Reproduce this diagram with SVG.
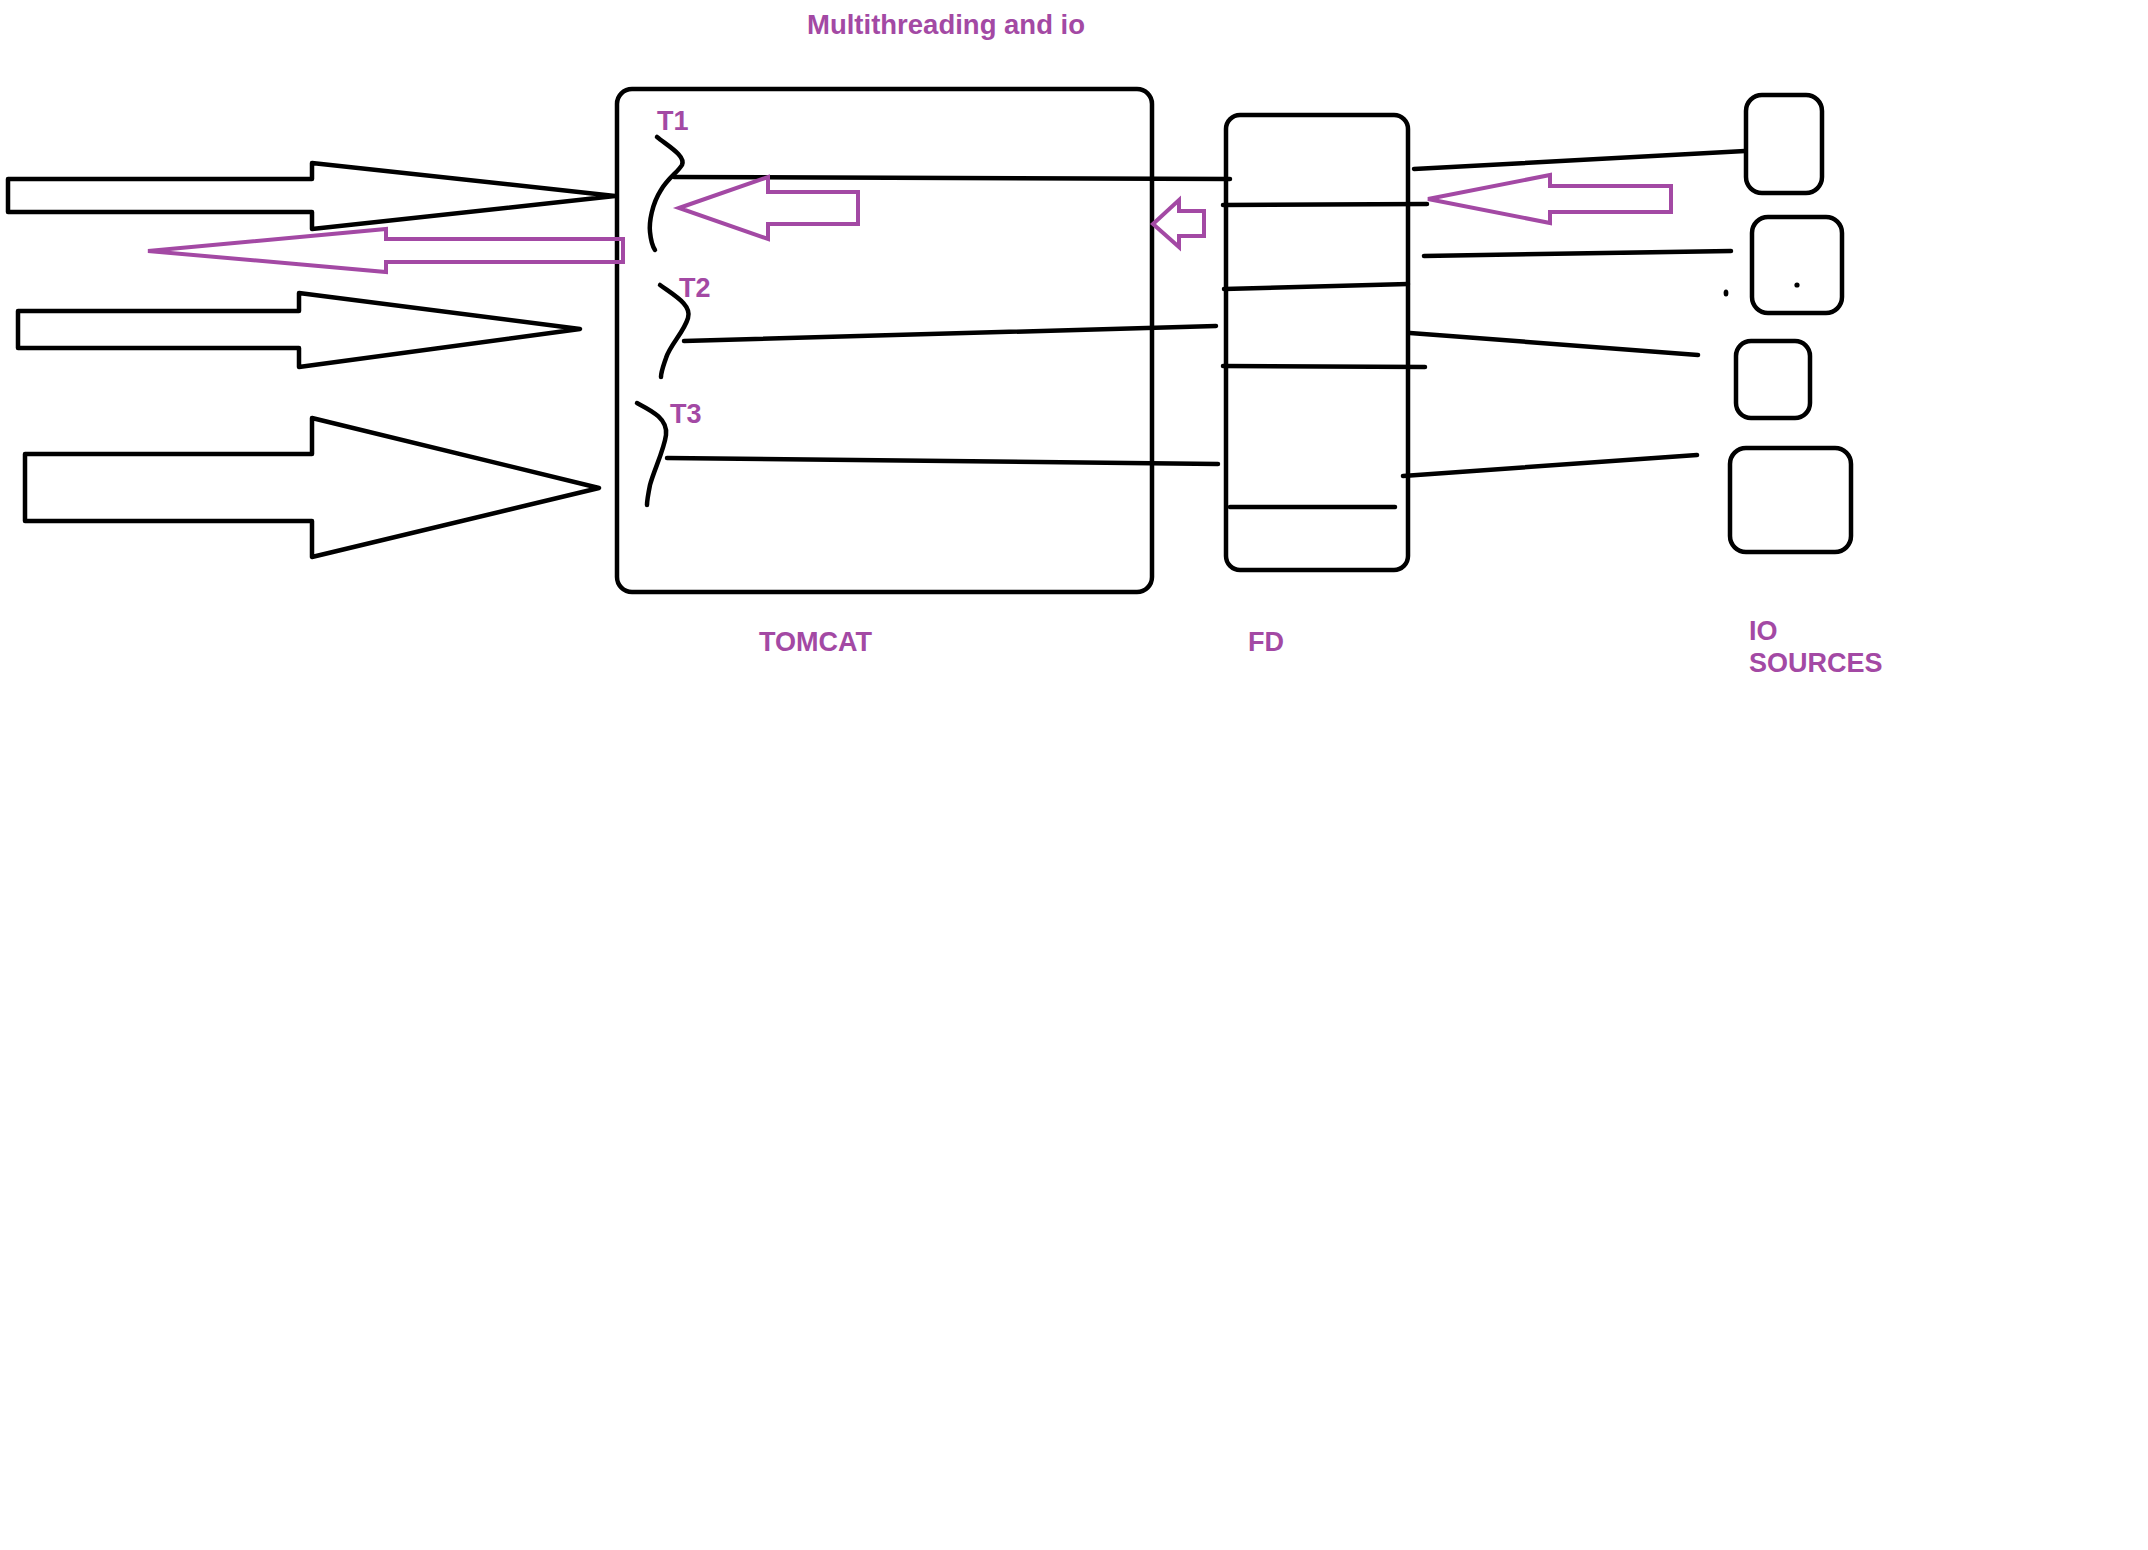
<svg xmlns="http://www.w3.org/2000/svg" width="2148" height="1550" viewBox="0 0 2148 1550">
<style>
.box{fill:none;stroke:#000;stroke-width:4.5;}
.ln{fill:none;stroke:#000;stroke-width:4.5;stroke-linecap:round;stroke-linejoin:round;}
.blk{fill:#fff;stroke:#000;stroke-width:4.5;stroke-linejoin:round;}
.pur{fill:none;stroke:#A349A4;stroke-width:4;stroke-linejoin:miter;}
.lbl{font-family:"Liberation Sans",Arial,sans-serif;font-weight:bold;font-size:27px;fill:#A349A4;}
</style>
<rect width="2148" height="1550" fill="#fff"/>
<text class="lbl" x="807" y="34" style="font-size:27.5px">Multithreading and io</text>

<g id="incoming-arrows">
<polygon class="blk" points="8,179 312,179 312,163 615,196 312,229 312,212 8,212"/>
<polygon class="blk" points="18,311 299,311 299,293 580,329 299,367 299,348 18,348"/>
<polygon class="blk" points="25,454 312,454 312,418 599,488 312,557 312,521 25,521"/>
</g>

<g id="tomcat">
<rect class="box" x="617" y="89" width="535" height="503" rx="15"/>
<text class="lbl" x="759" y="651">TOMCAT</text>
</g>

<g id="threads">
<path class="ln" d="M657,137 C668,146 686,156 682,165 C678,172 668,178 661,190 C652,204 649,222 650,232 C651,242 653,247 655,250"/>
<text class="lbl" x="657" y="130">T1</text>
<path class="ln" d="M660,285 C675,296 692,305 688,318 C684,332 670,345 666,358 C663,367 661,372 661,377"/>
<text class="lbl" x="679" y="297">T2</text>
<path class="ln" d="M637,403 C650,410 668,418 666,435 C664,450 654,470 650,485 C648,495 647,500 647,505"/>
<text class="lbl" x="670" y="423">T3</text>
</g>

<g id="fd">
<rect class="box" x="1226" y="115" width="182" height="455" rx="14"/>
<text class="lbl" x="1248" y="651">FD</text>
</g>

<g id="io1"><rect class="box" x="1746" y="95" width="76" height="98" rx="16"/></g>
<g id="io2"><rect class="box" x="1752" y="217" width="90" height="96" rx="16"/>
<circle cx="1797" cy="285" r="2.6" fill="#000"/></g>
<g id="io3"><rect class="box" x="1736" y="341" width="74" height="77" rx="15"/></g>
<g id="io4"><rect class="box" x="1730" y="448" width="121" height="104" rx="16"/></g>
<g id="io-label">
<text class="lbl" x="1749" y="640">IO</text>
<text class="lbl" x="1749" y="672">SOURCES</text>
</g>
<ellipse cx="1726" cy="293" rx="2.4" ry="3.6" fill="#000"/>

<g id="connectors">
<line class="ln" x1="674" y1="177" x2="1230" y2="179"/>
<line class="ln" x1="684" y1="341" x2="1216" y2="326"/>
<line class="ln" x1="667" y1="458" x2="1218" y2="464"/>
<line class="ln" x1="1223" y1="205" x2="1427" y2="204"/>
<line class="ln" x1="1224" y1="289" x2="1408" y2="284"/>
<line class="ln" x1="1223" y1="366" x2="1425" y2="367"/>
<line class="ln" x1="1230" y1="507" x2="1395" y2="507"/>
<line class="ln" x1="1414" y1="169" x2="1745" y2="151"/>
<line class="ln" x1="1424" y1="256" x2="1731" y2="251"/>
<line class="ln" x1="1410" y1="333" x2="1698" y2="355"/>
<line class="ln" x1="1403" y1="476" x2="1697" y2="455"/>
</g>

<g id="return-arrows">
<polygon class="pur" points="148,251 386,229 386,239 623,239 623,262 386,262 386,272"/>
<polygon class="pur" points="679,208 768,177 768,192 858,192 858,224 768,224 768,239"/>
<polygon class="pur" points="1153,224 1179,200 1179,211 1204,211 1204,236 1179,236 1179,247"/>
<polygon class="pur" points="1428,199 1550,175 1550,186 1671,186 1671,212 1550,212 1550,223"/>
</g>
</svg>
